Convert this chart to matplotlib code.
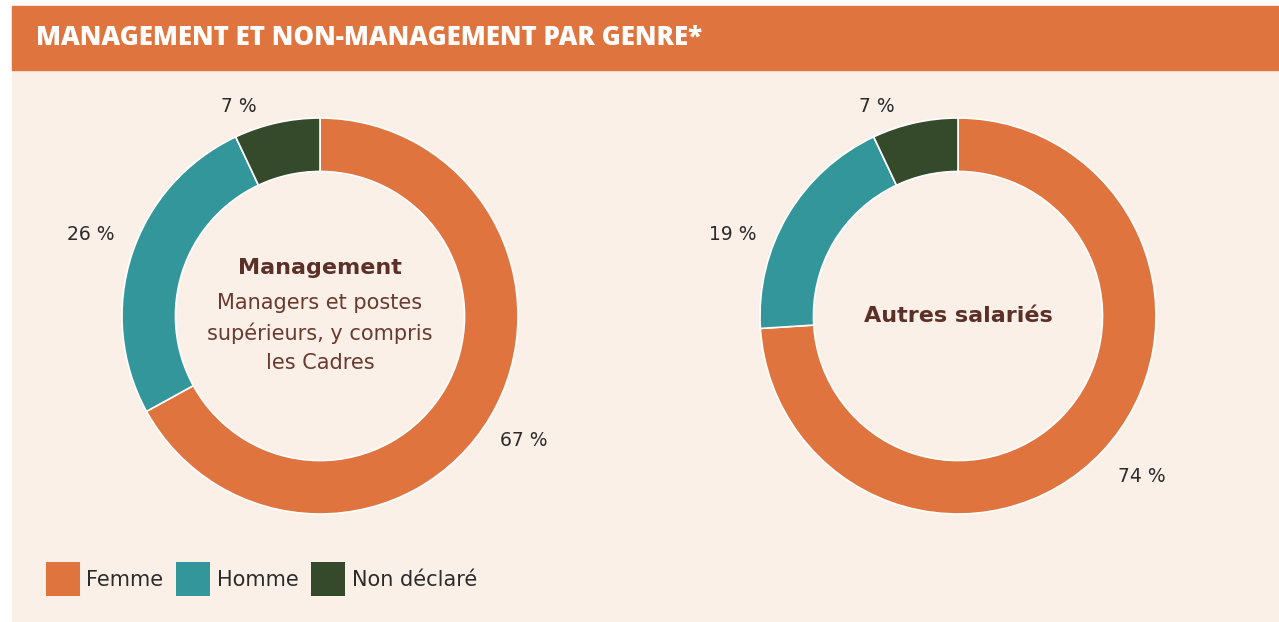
import matplotlib.pyplot as plt
from matplotlib.patches import Rectangle, Patch

# données
categories = ['Femme', 'Homme', 'Non déclaré']
management = [67, 26, 7]
autres = [74, 19, 7]
labels_management = ['67 %', '26 %', '7 %']
labels_autres = ['74 %', '19 %', '7 %']

colors = ['#DF743F', '#33969A', '#344A2A']
bg = '#FBF0E8'
brown = '#5A3028'

W, H = 1279, 622
fig = plt.figure(figsize=(W / 100, H / 100), dpi=100, facecolor='white')

# fond crème + bandeau titre
fig.add_artist(Rectangle((12 / W, 0), 1 - 12 / W, (H - 70) / H,
                         transform=fig.transFigure, color=bg, zorder=0))
fig.add_artist(Rectangle((12 / W, (H - 70) / H), 1 - 12 / W, 64 / H,
                         transform=fig.transFigure, color='#DF743F', zorder=0))
fig.text(36 / W, (H - 38) / H, 'MANAGEMENT ET NON-MANAGEMENT PAR GENRE*',
         color='white', fontsize=18.6, fontweight='heavy', va='center', ha='left',
         family='Open Sans')

R = 198
lim = 1.3
size = 2 * lim * R


def donut(cx, cy, values, labels, label_pos):
    ax = fig.add_axes([(cx - size / 2) / W, (H - cy - size / 2) / H, size / W, size / H])
    wedges, texts = ax.pie(values, colors=colors, startangle=90, counterclock=False,
                           labels=labels, labeldistance=1.2,
                           textprops=dict(fontsize=13.5, color='#2B2B2B'),
                           wedgeprops=dict(width=0.27, edgecolor='white', linewidth=1.2))
    # placement des étiquettes comme dans l'original (hors de l'anneau)
    for t, p in zip(texts, label_pos):
        t.set_position(p)
        t.set_ha('center')
        t.set_va('center')
    ax.set_xlim(-lim, lim)
    ax.set_ylim(-lim, lim)
    ax.set_aspect('equal')
    ax.axis('off')
    return ax


ax1 = donut(320, 316, management, labels_management,
            [(1.03, -0.63), (-1.16, 0.41), (-0.41, 1.06)])
ax1.text(0, 0.242, 'Management', ha='center', va='center', fontsize=16,
         fontweight='bold', color=brown)
ax1.text(0, -0.085, 'Managers et postes\nsupérieurs, y compris\nles Cadres',
         ha='center', va='center', fontsize=15, color='#6B3A2E', linespacing=1.55)

ax2 = donut(958, 316, autres, labels_autres,
            [(0.93, -0.81), (-1.14, 0.41), (-0.41, 1.06)])
ax2.text(0, 0, 'Autres salariés', ha='center', va='center', fontsize=16,
         fontweight='bold', color=brown)

# légende
handles = [Patch(facecolor=c, edgecolor='none') for c in colors]
fig.legend(handles, categories, loc='center left', bbox_to_anchor=(27 / W, (H - 579) / H),
           ncol=3, frameon=False, fontsize=15, handlelength=1.65, handleheight=2.1,
           handletextpad=0.3, columnspacing=0.6, labelcolor='#2B2B2B')

fig.savefig('out.png', dpi=100, facecolor='white')
